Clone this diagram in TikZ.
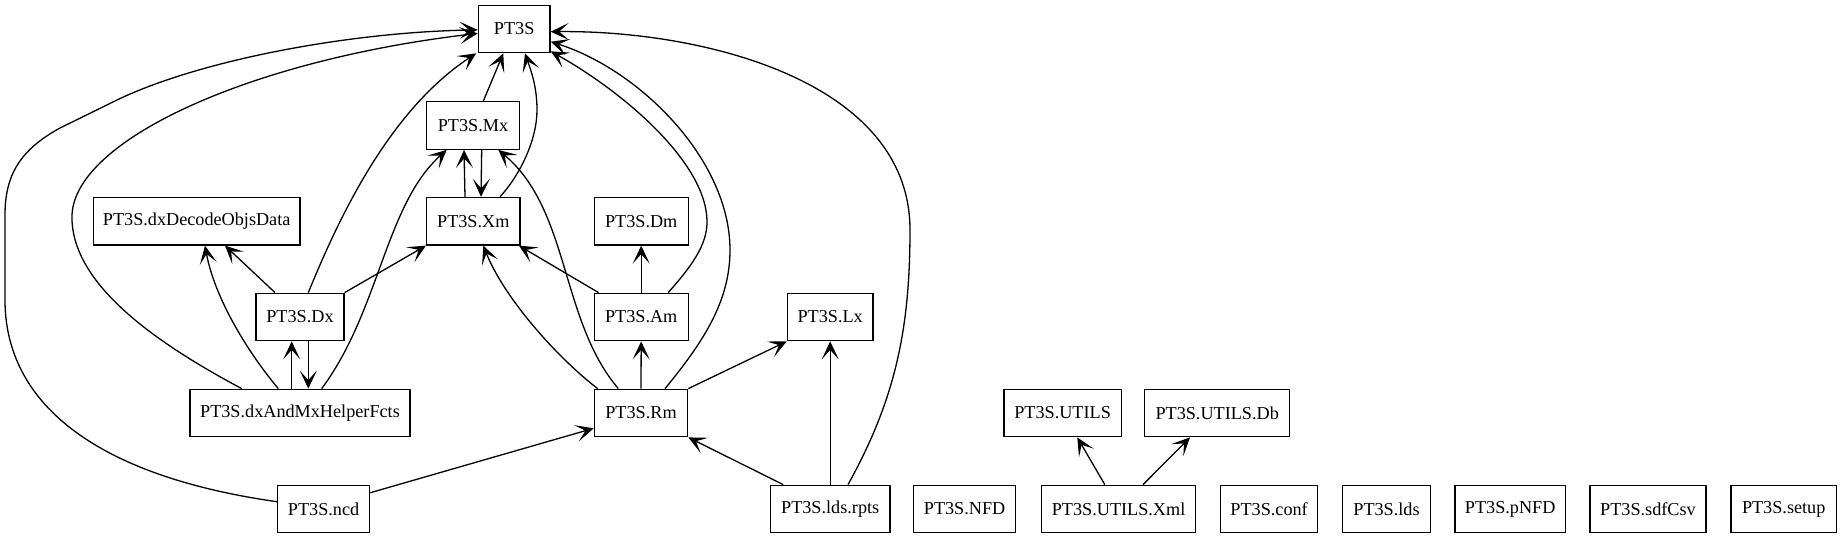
\documentclass[tikz,border=0pt]{standalone}
\usepackage{fontspec}
\setmainfont{Liberation Serif}
\usetikzlibrary{arrows.meta}
\tikzset{
  box/.style={draw, line width=1.3pt, minimum height=47.5pt, inner sep=0pt,
    font=\fontsize{18.2}{20}\selectfont},
  arr/.style={line width=1.3pt, -{Stealth[length=18pt,width=17pt,inset=9.5pt]}},
}
\begin{document}
\begin{tikzpicture}[x=1pt,y=-1pt]
\useasboundingbox[fill=white] (0,0) rectangle (1840,539);
% row 1
\node[box, minimum width=71.7pt] (PT3S) at (514.2,28.9) {PT3S};
% row 2
\node[box, minimum width=92.6pt] (Mx) at (473,125.5) {PT3S.Mx};
% row 3
\node[box, minimum width=206.7pt] (dxDec) at (196.7,221.2) {PT3S.dxDecodeObjsData};
\node[box, minimum width=93.3pt] (Xm) at (473.3,221.2) {PT3S.Xm};
\node[box, minimum width=94pt] (Dm) at (641.2,221.2) {PT3S.Dm};
% row 4
\node[box, minimum width=88pt] (Dx) at (300,317) {PT3S.Dx};
\node[box, minimum width=94pt] (Am) at (641.2,317) {PT3S.Am};
\node[box, minimum width=85.7pt] (Lx) at (830.2,317) {PT3S.Lx};
% row 5
\node[box, minimum width=220pt] (dxAnd) at (300,413) {PT3S.dxAndMxHelperFcts};
\node[box, minimum width=93.3pt] (Rm) at (641,413) {PT3S.Rm};
\node[box, minimum width=117.4pt] (UT) at (1062.6,413) {PT3S.UTILS};
\node[box, minimum width=145pt] (UTDb) at (1217.2,413) {PT3S.UTILS.Db};
% row 6
\node[box, minimum width=92.2pt] (ncd) at (323.6,509) {PT3S.ncd};
\node[box, minimum width=119.7pt] (rpts) at (830.2,509) {PT3S.lds.rpts};
\node[box, minimum width=102pt] (NFD) at (964.6,509) {PT3S.NFD};
\node[box, minimum width=154.3pt] (UTXml) at (1118.6,509) {PT3S.UTILS.Xml};
\node[box, minimum width=97.4pt] (conf) at (1269.1,509) {PT3S.conf};
\node[box, minimum width=88pt] (lds) at (1386.5,509) {PT3S.lds};
\node[box, minimum width=110.3pt] (pNFD) at (1510.2,509) {PT3S.pNFD};
\node[box, minimum width=116pt] (sdf) at (1648,509) {PT3S.sdfCsv};
\node[box, minimum width=105.6pt] (setup) at (1783.7,509) {PT3S.setup};

% edges
\draw[arr] ([xshift=10.3pt]Mx.north) -- ([xshift=-10.9pt]PT3S.south);
\draw[arr] ([xshift=26.7pt]Xm.north) .. controls (520,175) and (537,140) .. (537,110)
   .. controls (537,85) and (530,68) .. ([xshift=10.8pt]PT3S.south);
\draw[arr] ([xshift=-8.3pt]Xm.north) -- ([xshift=-9pt]Mx.south);
\draw[arr] ([xshift=8.7pt]Mx.south) -- ([xshift=7.7pt]Xm.north);
\draw[arr] ([xshift=-25pt]Dx.north) -- ([xshift=28.3pt]dxDec.south);
\draw[arr] ([xshift=-21.7pt]dxAnd.north) .. controls (250,355) and (215,300) .. ([xshift=8.3pt]dxDec.south);
\draw[arr] ([xshift=8.3pt]Dx.north) .. controls (340,215) and (390,110) .. ([xshift=-1.5pt]PT3S.south west);
\draw[arr] (Dx.north east) -- (Xm.south west);
\draw[arr] ([xshift=-8.3pt]dxAnd.north) -- ([xshift=-8.3pt]Dx.south);
\draw[arr] ([xshift=8.3pt]Dx.south) -- ([xshift=8.3pt]dxAnd.north);
\draw[arr] ([xshift=21.7pt]dxAnd.north) .. controls (380,310) and (385,205) .. ([xshift=-26.3pt]Mx.south);
\draw[arr] ([xshift=-58.3pt]dxAnd.north) .. controls (160,345) and (70,285) .. (72,215)
   .. controls (75,140) and (250,60) .. ([yshift=-4.5pt]PT3S.west);
\draw[arr] ([yshift=7.3pt]ncd.west) .. controls (90,475) and (5,400) .. (5,300)
   -- (5,215) .. controls (5,175) and (20,150) .. (60,128)
   -- (117,100) .. controls (200,60) and (350,32) .. ([yshift=-1pt]PT3S.west);
\draw[arr] ([yshift=16.3pt]ncd.east) -- ([yshift=-15.3pt]Rm.west);
\draw[arr] ([xshift=4pt]Rm.north west) .. controls (560,360) and (505,300) .. ([xshift=10pt]Xm.south);
\draw[arr] ([xshift=-22.7pt]Rm.north) .. controls (560,320) and (570,210) .. ([xshift=25.3pt]Mx.south);
\draw[arr] ([xshift=5pt]Am.north west) -- ([xshift=-1.7pt]Xm.south east);
\draw[arr] (Am.north) -- (Dm.south);
\draw[arr] (Rm.north) -- (Am.south);
\draw[arr] (Rm.north east) -- (Lx.south west);
\draw[arr] ([xshift=24pt]Rm.north) .. controls (705,340) and (730,300) .. (730,250)
   .. controls (730,160) and (640,70) .. ([yshift=-12.8pt]PT3S.east);
\draw[arr] ([xshift=27pt]Am.north) .. controls (690,268) and (708,245) .. (707,220)
   .. controls (705,160) and (620,90) .. ([yshift=2pt]PT3S.south east);
\draw[arr] ([xshift=17.8pt]rpts.north) .. controls (895,400) and (910,330) .. (910,230)
   .. controls (910,80) and (700,30) .. ([yshift=-2.8pt]PT3S.east);
\draw[arr] ([xshift=-47pt]rpts.north) -- (Rm.south east);
\draw[arr] (rpts.north) -- (Lx.south);
\draw[arr] ([xshift=-13.8pt]UTXml.north) -- ([xshift=14.7pt]UT.south);
\draw[arr] ([xshift=24.4pt]UTXml.north) -- ([xshift=-27.2pt]UTDb.south);
\end{tikzpicture}
\end{document}
